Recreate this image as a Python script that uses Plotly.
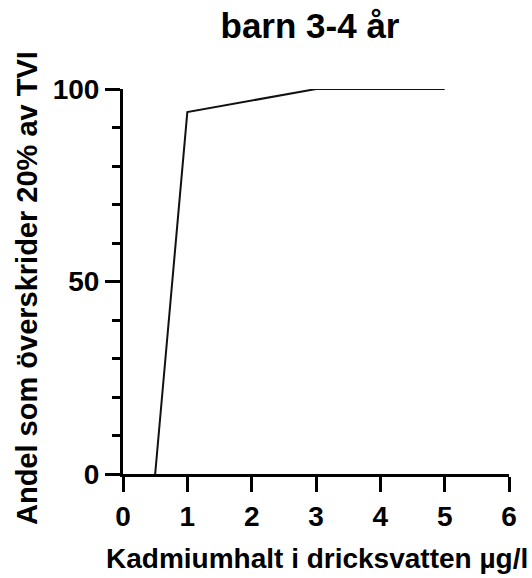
import plotly.graph_objects as go

x_vals = [0.5, 1, 3, 5]
y_vals = [0, 94, 100, 100]
title_text = "barn 3-4 år"
x_title = "Kadmiumhalt i dricksvatten µg/l"
y_title = "Andel som överskrider 20% av TVI"
x_ticks = [0, 1, 2, 3, 4, 5, 6]
y_ticks = [0, 50, 100]

FONT = "Liberation Sans, Arial, sans-serif"

fig = go.Figure(go.Scatter(x=x_vals, y=y_vals, mode="lines",
                           line=dict(color="#111111", width=2)))

fig.update_layout(
    width=532, height=578,
    margin=dict(l=123, r=23, t=89, b=104),
    plot_bgcolor="white", paper_bgcolor="white",
    showlegend=False,
    font=dict(family=FONT, color="black"),
    title=dict(text="<b>" + title_text + "</b>", x=310 / 532, xanchor="center",
               y=1 - 38 / 578, yanchor="bottom", yref="container",
               font=dict(size=35, family=FONT, color="black")),
    annotations=[
        dict(text="<b>" + x_title + "</b>", xref="paper", yref="paper",
             x=(317 - 123) / 386, xanchor="center",
             y=(474 - 576) / 385, yanchor="bottom", showarrow=False,
             font=dict(size=28, family=FONT, color="black")),
        dict(text="<b>" + y_title + "</b>", xref="paper", yref="paper",
             x=(27 - 123) / 386, xanchor="center",
             y=(474 - 288) / 385, yanchor="middle", textangle=-90, showarrow=False,
             font=dict(size=29, family=FONT, color="black")),
    ],
)

fig.update_xaxes(
    range=[0, 6], tickvals=x_ticks, ticktext=["<b>%d</b>" % v for v in x_ticks],
    showline=True, linecolor="black", linewidth=3,
    ticks="outside", ticklen=15, tickwidth=3, tickcolor="black",
    showgrid=False, zeroline=False,
    tickfont=dict(size=28, family=FONT, color="black"),
)
fig.update_yaxes(
    range=[0, 100], tickvals=y_ticks, ticktext=["<b>%d</b>" % v for v in y_ticks],
    showline=True, linecolor="black", linewidth=3,
    ticks="outside", ticklen=15, tickwidth=3, tickcolor="black",
    minor=dict(dtick=10, ticks="outside", ticklen=8, tickwidth=3, tickcolor="black", showgrid=False),
    showgrid=False, zeroline=False,
    tickfont=dict(size=28, family=FONT, color="black"),
)

fig.write_html("out.html")
